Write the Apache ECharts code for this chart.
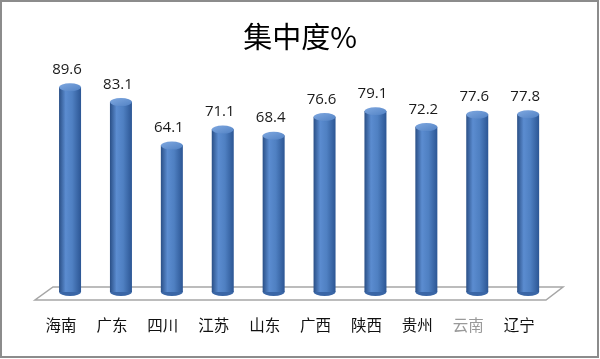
<!DOCTYPE html>
<html>
<head>
<meta charset="utf-8">
<script src="https://cdn.jsdelivr.net/npm/echarts@6/dist/echarts.min.js"></script>
<style>
html,body{margin:0;padding:0;background:#fff;}
#c{width:600px;height:359px;}
</style>
</head>
<body>
<div id="c"></div>
<script>
const categories = ['海南','广东','四川','江苏','山东','广西','陕西','贵州','云南','辽宁'];
const values = [89.6, 83.1, 64.1, 71.1, 68.4, 76.6, 79.1, 72.2, 77.6, 77.8];
const titleText = '集中度%';

const chart = echarts.init(document.getElementById('c'));
const FONT = '"Noto Sans CJK SC", "DejaVu Sans", sans-serif';
const NUMFONT = '"Open Sans", "Noto Sans", sans-serif';
const bodyGrad = new echarts.graphic.LinearGradient(0, 0, 1, 0, [
  {offset: 0, color: '#2a4f86'},
  {offset: 0.3, color: '#5b8cd0'},
  {offset: 0.6, color: '#4f80c2'},
  {offset: 1, color: '#2c5694'}
]);
const topGrad = new echarts.graphic.LinearGradient(0, 0, 1, 1, [
  {offset: 0, color: '#7fa8e0'},
  {offset: 1, color: '#5282c4'}
]);

chart.setOption({
  animation: false,
  backgroundColor: '#fff',
  title: {
    text: titleText, left: 'center', top: 17,
    textStyle: {fontFamily: FONT, fontSize: 29, fontWeight: 'normal', color: '#000'}
  },
  graphic: [
    {type: 'rect', shape: {x: 1, y: 1, width: 597, height: 356},
     style: {fill: 'none', stroke: '#8c8c8c', lineWidth: 2}, z: -1},
    {type: 'polygon', shape: {points: [[53, 287], [563, 287], [546, 300], [35, 300]]},
     style: {fill: '#fff', stroke: '#a6a6a6', lineWidth: 1.5}, z: -1}
  ],
  grid: {left: 44.6, width: 509, top: 63.2, bottom: 67},
  xAxis: {
    type: 'category', data: categories,
    axisLine: {show: false}, axisTick: {show: false},
    axisLabel: {
      margin: 25, fontFamily: FONT, fontSize: 15.5, padding: [0, 18, 0, 0],
      color: function (v) { return v === '云南' ? '#9a9a9a' : '#111'; }
    }
  },
  yAxis: {type: 'value', min: 0, max: 100, show: false, splitLine: {show: false}},
  series: [
    {
      type: 'bar', data: values, barWidth: 22, z: 2,
      itemStyle: {color: bodyGrad}
    },
    {
      type: 'pictorialBar', data: values, symbol: 'circle', symbolSize: [22, 8],
      symbolOffset: [0, 4], symbolPosition: 'start', z: 1,
      itemStyle: {color: '#3a66a6'}
    },
    {
      type: 'pictorialBar', data: values, symbol: 'circle', symbolSize: [22, 8],
      symbolOffset: [0, -4], symbolPosition: 'end', z: 3,
      itemStyle: {color: topGrad, borderColor: '#3d67a6', borderWidth: 0.8},
      label: {
        show: true, position: 'top', distance: 6, offset: [-3, 0],
        fontFamily: NUMFONT, fontSize: 15, color: '#1a1a1a',
        formatter: function (p) { return p.value.toFixed(1); }
      }
    }
  ]
});
</script>
</body>
</html>
